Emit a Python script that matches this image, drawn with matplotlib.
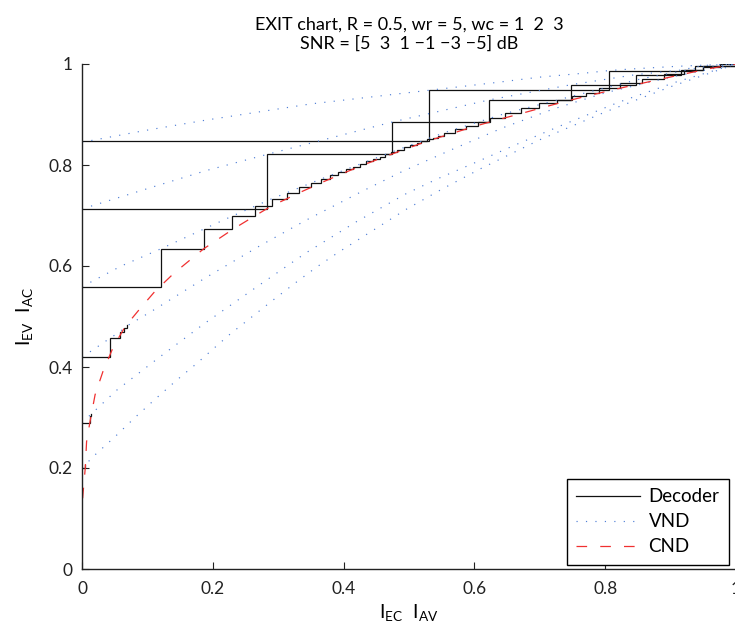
import matplotlib
matplotlib.use("Agg")
import matplotlib.pyplot as plt
from matplotlib.lines import Line2D

plt.rcParams["font.family"] = ["Lato", "DejaVu Sans"]
plt.rcParams["mathtext.fontset"] = "custom"
plt.rcParams["mathtext.rm"] = "Lato"
plt.rcParams["mathtext.it"] = "Lato:italic"
plt.rcParams["mathtext.bf"] = "Lato:bold"

# ---------------- data ----------------
snr_db = [5, 3, 1, -1, -3, -5]

# check node curve (x = I_EC, y = I_AC)
cnd_x = [0.001, 0.002, 0.005, 0.007, 0.012, 0.020, 0.032, 0.048, 0.066, 0.089,
         0.111, 0.140, 0.186, 0.231, 0.264, 0.290, 0.313, 0.332, 0.351, 0.366,
         0.400, 0.436, 0.466, 0.496, 0.527, 0.562, 0.599, 0.634, 0.669, 0.705,
         0.739, 0.777, 0.809, 0.843, 0.878, 0.920, 0.960, 1.0]
cnd_y = [0.140, 0.156, 0.200, 0.252, 0.290, 0.345, 0.391, 0.440, 0.480, 0.516,
         0.549, 0.585, 0.634, 0.673, 0.699, 0.719, 0.733, 0.745, 0.756, 0.765,
         0.784, 0.803, 0.818, 0.832, 0.847, 0.861, 0.876, 0.889, 0.901, 0.914,
         0.926, 0.938, 0.948, 0.958, 0.968, 0.980, 0.991, 1.0]

# variable node curves (x = I_AV, y = I_EV), one per SNR
vnd5_x = [0.0, 0.095, 0.190, 0.350, 0.531, 0.631, 0.700, 0.769, 0.806, 0.838, 0.904, 0.937, 1.0]
vnd5_y = [0.845, 0.868, 0.889, 0.921, 0.948, 0.963, 0.974, 0.982, 0.987, 0.990, 0.995, 0.997, 1.0]

vnd3_x = [0.0, 0.107, 0.190, 0.283, 0.474, 0.623, 0.748, 0.847, 0.916, 0.950, 1.0]
vnd3_y = [0.713, 0.756, 0.789, 0.821, 0.885, 0.929, 0.959, 0.979, 0.988, 0.997, 1.0]

vnd1_x = [0.0, 0.060, 0.1205, 0.186, 0.230, 0.290, 0.365, 0.472, 0.554, 0.647, 0.749, 0.856, 0.950, 1.0]
vnd1_y = [0.559, 0.600, 0.634, 0.673, 0.699, 0.733, 0.772, 0.825, 0.864, 0.902, 0.936, 0.971, 0.994, 1.0]

vndm1_x = [0.0, 0.0122, 0.0428, 0.0581, 0.0683, 0.106, 0.188, 0.272, 0.343, 0.430,
           0.491, 0.568, 0.644, 0.721, 0.800, 0.900, 1.0]
vndm1_y = [0.420, 0.430, 0.457, 0.470, 0.481, 0.510, 0.576, 0.640, 0.691, 0.749,
           0.788, 0.832, 0.874, 0.911, 0.943, 0.974, 1.0]

vndm3_x = [0.0, 0.0118, 0.053, 0.119, 0.186, 0.229, 0.272, 0.3425, 0.420, 0.4954,
           0.5424, 0.6035, 0.6647, 0.736, 0.820, 0.910, 1.0]
vndm3_y = [0.290, 0.304, 0.354, 0.420, 0.485, 0.524, 0.563, 0.626, 0.688, 0.743,
           0.772, 0.806, 0.841, 0.880, 0.924, 0.965, 1.0]

vndm5_x = [0.0, 0.0199, 0.0505, 0.081, 0.1116, 0.1448, 0.1754, 0.206, 0.2263, 0.2595,
           0.2916, 0.3246, 0.3578, 0.3919, 0.4954, 0.550, 0.610, 0.700, 0.800, 0.900, 1.0]
vndm5_y = [0.200, 0.226, 0.262, 0.300, 0.336, 0.374, 0.407, 0.442, 0.465, 0.499,
           0.532, 0.565, 0.597, 0.627, 0.712, 0.752, 0.793, 0.850, 0.905, 0.955, 1.0]

# decoder trajectories: x positions of the vertical steps and the mutual
# information level held by each horizontal run
dec5_x = [0.531, 0.806, 0.937, 1.0]
dec5_lv = [0.848, 0.948, 0.987, 0.997, 1.0]

dec3_x = [0.283, 0.474, 0.623, 0.748, 0.847, 0.916, 0.950, 1.0]
dec3_lv = [0.713, 0.821, 0.885, 0.929, 0.959, 0.979, 0.988, 0.997, 1.0]

dec1_x = [0.1205, 0.186, 0.230, 0.264, 0.290, 0.313, 0.332, 0.350, 0.365,
          0.379, 0.392, 0.404, 0.415, 0.425, 0.435, 0.445, 0.455, 0.463, 0.472,
          0.482, 0.492, 0.502, 0.512, 0.519, 0.528, 0.537, 0.545, 0.554,
          0.570, 0.587, 0.605, 0.624, 0.647, 0.672, 0.699, 0.727, 0.749,
          0.770, 0.791, 0.823, 0.856, 0.890, 0.920, 0.950, 0.975, 1.0]
dec1_lv = [0.559, 0.634, 0.673, 0.699, 0.719, 0.733, 0.745, 0.756, 0.765,
           0.772, 0.780, 0.786, 0.792, 0.797, 0.802, 0.807, 0.812, 0.816, 0.821,
           0.825, 0.830, 0.835, 0.840, 0.843, 0.847, 0.851, 0.854, 0.858,
           0.864, 0.871, 0.878, 0.885, 0.893, 0.902, 0.912, 0.922, 0.929,
           0.936, 0.942, 0.952, 0.962, 0.971, 0.980, 0.988, 0.994, 1.0, 1.0]

decm1_x = [0.0428, 0.0581, 0.0647, 0.0683]
decm1_lv = [0.420, 0.457, 0.470, 0.477, 0.483]

decm3_x = [0.0118, 0.0135]
decm3_lv = [0.290, 0.303, 0.306]

decm5_x = [0.0046]
decm5_lv = [0.200, 0.205]

x_ticks = [0, 0.2, 0.4, 0.6, 0.8, 1.0]
x_ticklabels = ["0", "0.2", "0.4", "0.6", "0.8", "1"]
y_ticks = [0, 0.2, 0.4, 0.6, 0.8, 1.0]
y_ticklabels = ["0", "0.2", "0.4", "0.6", "0.8", "1"]


def staircase(xs, levels):
    px, py = [0.0], [levels[0]]
    for k, x in enumerate(xs):
        px += [x, x]
        py += [levels[k], levels[k + 1]]
    return px, py


# ---------------- figure ----------------
W, H = 735, 634
fig = plt.figure(figsize=(W / 100, H / 100), dpi=100)
ax = fig.add_axes([82 / W, (H - 569) / H, (736 - 82) / W, 505 / H])

dec_kw = dict(color="#111111", lw=0.9, solid_joinstyle="miter")
vnd_kw = dict(color="#4f7fd6", lw=0.85, dashes=(1.0, 7.0))
cnd_kw = dict(color="#f03030", lw=0.9, dashes=(8.5, 10.5))

for xs, lv in [(dec5_x, dec5_lv), (dec3_x, dec3_lv), (dec1_x, dec1_lv),
               (decm1_x, decm1_lv), (decm3_x, decm3_lv), (decm5_x, decm5_lv)]:
    sx, sy = staircase(xs, lv)
    ax.plot(sx, sy, **dec_kw)

for vx, vy in [(vnd5_x, vnd5_y), (vnd3_x, vnd3_y), (vnd1_x, vnd1_y),
               (vndm1_x, vndm1_y), (vndm3_x, vndm3_y), (vndm5_x, vndm5_y)]:
    ax.plot(vx, vy, **vnd_kw)

ax.plot(cnd_x, cnd_y, **cnd_kw)

ax.set_xlim(0, 1)
ax.set_ylim(0, 1)
ax.set_xticks(x_ticks)
ax.set_xticklabels(x_ticklabels)
ax.set_yticks(y_ticks)
ax.set_yticklabels(y_ticklabels)
ax.tick_params(direction="in", length=5, width=0.8, labelsize=12.5, colors="#222222")
ax.tick_params(axis="x", pad=9)
ax.tick_params(axis="y", pad=7)
for s in ("top", "right"):
    ax.spines[s].set_visible(False)
for s in ("left", "bottom"):
    ax.spines[s].set_linewidth(1.0)
    ax.spines[s].set_color("#222222")

ax.set_title("EXIT chart, R = 0.5, wr = 5, wc = 1  2  3\nSNR = [5  3  1 \u22121 \u22123 \u22125] dB",
             fontsize=13, linespacing=1.25, pad=11)
ax.set_xlabel(r"$\mathrm{I}_{\mathrm{EC}}\ \ \mathrm{I}_{\mathrm{AV}}$", fontsize=14)
ax.set_ylabel(r"$\mathrm{I}_{\mathrm{EV}}\ \ \mathrm{I}_{\mathrm{AC}}$", fontsize=14)
ax.xaxis.set_label_coords(0.5, -0.065)
ax.yaxis.set_label_coords(-0.072, 0.5)

handles = [Line2D([], [], **dec_kw), Line2D([], [], **vnd_kw), Line2D([], [], **cnd_kw)]
leg = ax.legend(handles, ["Decoder", "VND", "CND"], loc="upper left",
                bbox_to_anchor=(567 / W, 1 - 479 / H), bbox_transform=fig.transFigure,
                fancybox=False, edgecolor="black", framealpha=1, fontsize=13.5,
                handlelength=3.4, handletextpad=0.45, labelspacing=0.42,
                borderpad=0.5, borderaxespad=0)
leg.get_frame().set_linewidth(1.0)

fig.savefig("out.png", dpi=100)
